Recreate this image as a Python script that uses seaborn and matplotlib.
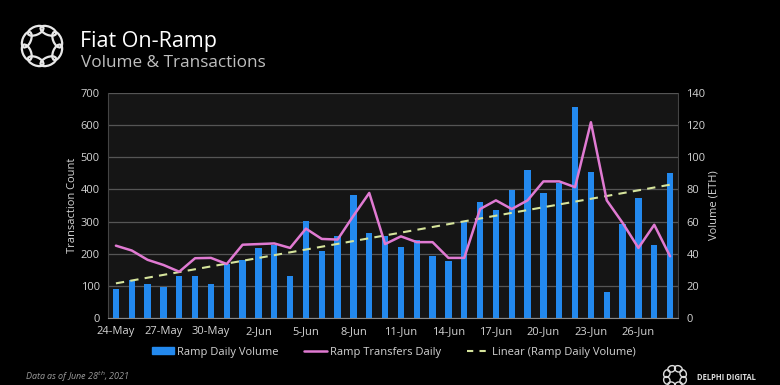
import numpy as np
import pandas as pd
import matplotlib
matplotlib.use("Agg")
import matplotlib.pyplot as plt
from matplotlib.patches import Ellipse, Rectangle
from matplotlib.lines import Line2D
import seaborn as sns

dates = ["24-May", "25-May", "26-May", "27-May", "28-May", "29-May", "30-May", "31-May",
         "1-Jun", "2-Jun", "3-Jun", "4-Jun", "5-Jun", "6-Jun", "7-Jun", "8-Jun",
         "9-Jun", "10-Jun", "11-Jun", "12-Jun", "13-Jun", "14-Jun", "15-Jun", "16-Jun",
         "17-Jun", "18-Jun", "19-Jun", "20-Jun", "21-Jun", "22-Jun", "23-Jun", "24-Jun",
         "25-Jun", "26-Jun", "27-Jun", "28-Jun"]
volume_eth = [18.0, 23.9, 21.2, 19.3, 26.0, 26.0, 21.0, 33.6, 36.3, 43.6, 45.6, 26.0,
              60.2, 42.0, 50.8, 76.8, 52.9, 50.8, 44.2, 48.3, 38.4, 35.7, 60.2, 72.4,
              67.4, 79.4, 91.9, 77.8, 84.0, 131.3, 91.0, 16.4, 58.7, 74.5, 45.4, 90.2]
transfers = [225, 210, 181, 165, 144, 186, 187, 168, 228, 230, 232, 218,
             278, 246, 244, 318, 389, 230, 254, 236, 236, 187, 187, 339,
             366, 339, 366, 425, 425, 407, 609, 366, 296, 218, 290, 192]
left_ticks = [0, 100, 200, 300, 400, 500, 600, 700]
right_ticks = [0, 20, 40, 60, 80, 100, 120, 140]

BLUE = "#2389ee"
PINK = "#e07ad2"
TREND = "#d6e49c"
TXT = "#d4d4d4"
GRID = "#555555"

sns.set_style("dark")
plt.rcParams['font.family'] = ['Open Sans', 'DejaVu Sans']

df = pd.DataFrame({"date": dates, "volume": volume_eth, "transfers": transfers})
df["pos"] = np.arange(len(df))

fig = plt.figure(figsize=(7.8, 3.85), dpi=100, facecolor="black")
ax = fig.add_axes([108/780, 1-318/385, (678-108)/780, (318-93)/385])
ax.set_facecolor("#151515")
ax2 = ax.twinx()

# bars (volume, right scale) on primary axes
sns.barplot(data=df, x="date", y="volume", ax=ax, color=BLUE, saturation=1,
            width=0.4, zorder=3, edgecolor="none", linewidth=0)
coef = np.polyfit(df["pos"], df["volume"], 1)
trend = np.polyval(coef, df["pos"])
sns.lineplot(x=df["pos"], y=trend, ax=ax, color=TREND, lw=1.5, zorder=4)
ax.lines[-1].set_dashes([4, 3])
ax.set_ylim(0, 140)
ax.set_yticks(right_ticks)
ax.set_xlabel("")

sns.lineplot(data=df, x="pos", y="transfers", ax=ax2, color=PINK, lw=1.8, zorder=5)
ax2.set_ylim(0, 700)
ax2.set_yticks(left_ticks)
ax2.set_xlabel("")
ax2.grid(False)

ax.yaxis.tick_right()
ax.yaxis.set_label_position("right")
ax2.yaxis.tick_left()
ax2.yaxis.set_label_position("left")
ax.set_ylabel("Volume (ETH)", color=TXT, fontsize=8, labelpad=2)
ax2.set_ylabel("Transaction Count", color=TXT, fontsize=8, labelpad=2)

ax.set_axisbelow(True)
ax.grid(axis="y", color=GRID, lw=0.9, zorder=0)
ax.grid(axis="x", visible=False)

ax.set_xlim(-0.5, len(dates) - 0.5)
ax.set_xticks(np.arange(0, len(dates), 3))
ax.set_xticklabels([dates[i] for i in range(0, len(dates), 3)])
ax.set_xticks(np.arange(-0.5, len(dates), 3), minor=True)
ax.tick_params(axis="x", which="major", length=0, colors=TXT, labelsize=8, pad=6)
ax.tick_params(axis="x", which="minor", length=4, color="#888888", width=0.8)
ax.tick_params(axis="y", length=0, colors=TXT, labelsize=8, pad=6)
ax2.tick_params(axis="y", length=0, colors=TXT, labelsize=8, pad=6)

for a in (ax, ax2):
    for s in a.spines.values():
        s.set_visible(False)
ax.spines["bottom"].set_visible(True)
ax.spines["bottom"].set_color("#888888")
ax.spines["left"].set_visible(True)
ax.spines["left"].set_color("#444444")
ax.spines["right"].set_visible(True)
ax.spines["right"].set_color("#444444")

# titles
fig.text(80/780, 1-42/385, "Fiat On-Ramp", color="white", fontsize=15.5, va="center", ha="left")
fig.text(81/780, 1-63/385, "Volume & Transactions", color="#bfbfbf", fontsize=12.3, va="center", ha="left")

# logo
lax = fig.add_axes([14/780, 1-74/385, 56/780, 56/385])
lax.set_xlim(-1.7, 1.7); lax.set_ylim(-1.7, 1.7); lax.set_aspect("equal"); lax.axis("off")
for k in range(8):
    th = np.deg2rad(k * 45 + 22.5)
    lax.add_patch(Ellipse((np.cos(th), np.sin(th)), 1.0, 0.5, angle=np.rad2deg(th) + 90,
                          fill=False, ec="#e8e8e8", lw=1.6))

# legend
handles = [Rectangle((0, 0), 1, 1, color=BLUE),
           Line2D([0], [0], color=PINK, lw=1.8),
           Line2D([0], [0], color=TREND, lw=1.5, dashes=[3, 3])]
labels = ["Ramp Daily Volume", "Ramp Transfers Daily", "Linear (Ramp Daily Volume)"]
leg = fig.legend(handles, labels, loc="center", bbox_to_anchor=(0.505, 1-352/385), ncol=3,
                 frameon=False, fontsize=8, handlelength=2.0, handleheight=0.5,
                 columnspacing=2.3, handletextpad=0.3)
for t in leg.get_texts():
    t.set_color(TXT)

fig.text(25/780, 1-377/385, "Data as of June 28$^{th}$, 2021", color="#9a9a9a",
         fontsize=6.5, style="italic", va="center")

# bottom-right brand
bax = fig.add_axes([660/780, 1-392/385, 30/780, 30/385])
bax.set_xlim(-1.7, 1.7); bax.set_ylim(-1.7, 1.7); bax.set_aspect("equal"); bax.axis("off")
for k in range(8):
    th = np.deg2rad(k * 45 + 22.5)
    bax.add_patch(Ellipse((np.cos(th), np.sin(th)), 0.9, 0.7, angle=np.rad2deg(th) + 90,
                          fill=False, ec="#dddddd", lw=1.0))
fig.text(697/780, 1-378/385, "DELPHI DIGITAL", color="#dddddd", fontsize=5.5,
         fontweight="bold", va="center")

fig.savefig("out.png", dpi=100, facecolor="black")
